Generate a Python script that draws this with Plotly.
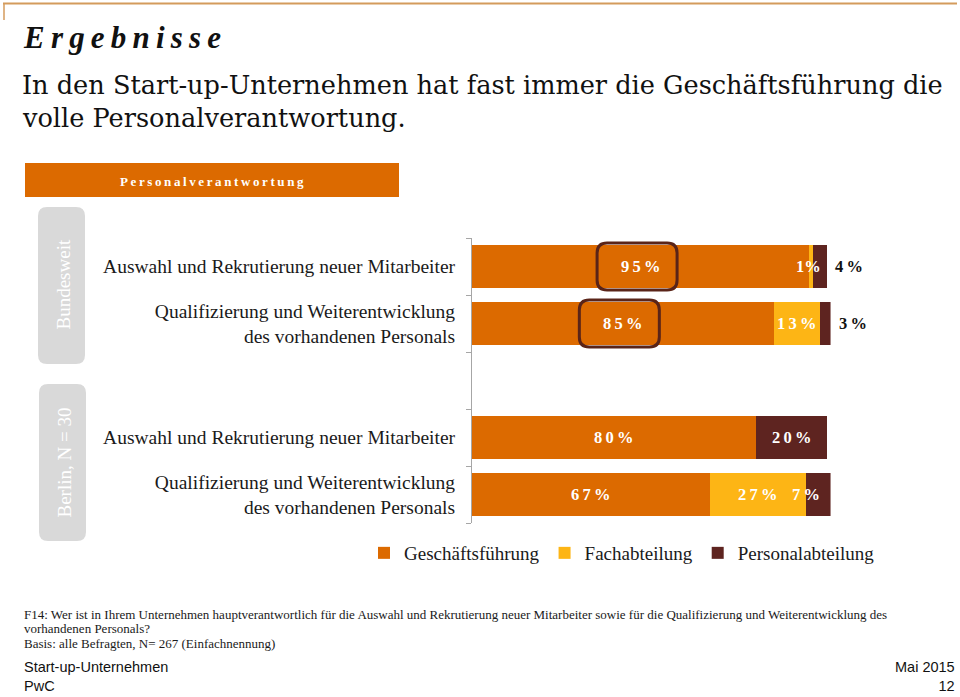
import plotly.graph_objects as go

# ---------------- data ----------------
row_labels = [
    "Auswahl und Rekrutierung neuer Mitarbeiter",
    "Qualifizierung und Weiterentwicklung<br>des vorhandenen Personals",
    "",
    "Auswahl und Rekrutierung neuer Mitarbeiter",
    "Qualifizierung und Weiterentwicklung<br>des vorhandenen Personals",
]
row_pos = [0, 1, 3, 4]          # category slots (slot 2 is the gap)
series_names = ["Geschäftsführung", "Fachabteilung", "Personalabteilung"]
geschaeftsfuehrung = [95, 85, 80, 67]
fachabteilung = [1, 13, 0, 27]
personalabteilung = [4, 3, 20, 7]
highlight_rows = [0, 1]          # rows whose first value is circled
group_names = ["Bundesweit", "Berlin, N = 30"]

W, H = 960, 697
ORANGE = "#DC6A00"
YELLOW = "#FDB515"
DARK = "#5E2420"
SERIF = "Liberation Serif"
WIDE_SERIF = "DejaVu Serif"
SANS = "Liberation Sans"
colors = [ORANGE, YELLOW, DARK]
series = [geschaeftsfuehrung, fachabteilung, personalabteilung]

def X(px):
    return px / W

def Y(py):
    return 1 - py / H

def rounded_path(x0, y0, x1, y1, rx, ry):
    return (f"M{x0+rx},{y0} L{x1-rx},{y0} Q{x1},{y0} {x1},{y0+ry} "
            f"L{x1},{y1-ry} Q{x1},{y1} {x1-rx},{y1} L{x0+rx},{y1} "
            f"Q{x0},{y1} {x0},{y1-ry} L{x0},{y0+ry} Q{x0},{y0} {x0+rx},{y0} Z")

TS = "\u2009"
def fmt(v):
    return TS.join(list(str(v))) + TS + "%"

fig = go.Figure()
for name, vals, col in zip(series_names, series, colors):
    fig.add_trace(go.Bar(
        y=row_pos, x=vals, name=name, orientation="h",
        marker=dict(color=col, line=dict(width=0)),
        width=0.77, hoverinfo="skip",
    ))

x_left_px, x_unit_px = 472, 3.55
x_max = 101
fig.update_layout(
    width=W, height=H,
    margin=dict(l=0, r=0, t=0, b=0),
    paper_bgcolor="white", plot_bgcolor="white",
    barmode="stack",
    showlegend=True,
    legend=dict(orientation="h", x=X(622), xanchor="center", y=Y(553), yanchor="middle",
                font=dict(family=SERIF, size=19, color="#1a1a1a"),
                itemwidth=30, traceorder="normal", bgcolor="rgba(0,0,0,0)"),
    xaxis=dict(domain=[X(x_left_px), X(x_left_px + x_unit_px * x_max)], range=[0, x_max],
               showticklabels=False, showgrid=False, zeroline=False, showline=False, fixedrange=True),
    yaxis=dict(domain=[Y(523), Y(238)], range=[4.5, -0.5],
               tickmode="array", tickvals=list(range(5)), ticktext=row_labels,
               ticks="", showgrid=False, zeroline=False,
               showline=True, linecolor="#A6A6A6", linewidth=1,
               tickfont=dict(family=SERIF, size=19.5, color="#1a1a1a"),
               ticklabelstandoff=12,
               minor=dict(tickmode="linear", tick0=-0.5, dtick=1, ticks="outside",
                          ticklen=5, tickcolor="#A6A6A6", tickwidth=1, showgrid=False)),
)

annotations = []
shapes = []

# data labels
for i, y in enumerate(row_pos):
    g, f, p = geschaeftsfuehrung[i], fachabteilung[i], personalabteilung[i]
    total = g + f + p
    lab = dict(family=SERIF, size=16.5, color="white")
    annotations.append(dict(x=g / 2, y=y, xref="x", yref="y", text=f"<b>{fmt(g)}</b>",
                            showarrow=False, font=lab))
    if f >= 5:
        annotations.append(dict(x=g + f / 2, y=y, xref="x", yref="y", text=f"<b>{fmt(f)}</b>",
                                showarrow=False, font=lab))
    elif f > 0:
        annotations.append(dict(x=total, y=y, xref="x", yref="y", text=f"<b>{f}%</b>",
                                xanchor="right", xshift=-4, showarrow=False, font=lab))
    if p >= 10:
        annotations.append(dict(x=g + f + p / 2, y=y, xref="x", yref="y", text=f"<b>{fmt(p)}</b>",
                                showarrow=False, font=lab))
    elif p >= 5:
        annotations.append(dict(x=total, y=y, xref="x", yref="y", text=f"<b>{fmt(p)}</b>",
                                xanchor="right", xshift=-9, showarrow=False, font=lab))
    elif p > 0:
        annotations.append(dict(x=total, y=y, xref="x", yref="y", text=f"<b>{fmt(p)}</b>",
                                xanchor="left", xshift=6, showarrow=False,
                                font=dict(family=SERIF, size=16.5, color="#111111")))

# highlight boxes around the first label of the Bundesweit rows
for r in highlight_rows:
    cx = geschaeftsfuehrung[r] / 2
    cy = row_pos[r]
    hw = 40 / x_unit_px
    hh = 23.5 / 57
    rx, ry = 10 / x_unit_px, 10 / 57
    shapes.append(dict(type="path", xref="x", yref="y",
                       path=rounded_path(cx - hw - 1, cy - hh, cx + hw - 1, cy + hh, rx, ry),
                       line=dict(color="#5A2418", width=3), fillcolor="rgba(0,0,0,0)"))

# top frame line
shapes.append(dict(type="line", xref="paper", yref="paper", x0=X(3), x1=X(957), y0=Y(3.5), y1=Y(3.5),
                   line=dict(color="#D49B5C", width=2)))
shapes.append(dict(type="line", xref="paper", yref="paper", x0=X(4), x1=X(4), y0=Y(3), y1=Y(20),
                   line=dict(color="#D49B5C", width=1.5)))

# header bar
shapes.append(dict(type="rect", xref="paper", yref="paper", x0=X(25), x1=X(399), y0=Y(197), y1=Y(163),
                   line=dict(width=0), fillcolor=ORANGE, layer="below"))
annotations.append(dict(x=X(212), y=Y(181), xref="paper", yref="paper", xanchor="center", yanchor="middle",
                        text="<b>" + TS.join(list("Personalverantwortung")) + "</b>",
                        showarrow=False, font=dict(family=SERIF, size=13, color="white")))

# group panels
for (x0, x1, y0, y1), name, cy in zip([(38, 85, 207, 364), (39, 86, 384, 541)], group_names, [285, 463]):
    shapes.append(dict(type="path", xref="paper", yref="paper",
                       path=rounded_path(X(x0), Y(y1), X(x1), Y(y0), 9 / W, 9 / H),
                       line=dict(width=0), fillcolor="#D9D9D9", layer="below"))
    annotations.append(dict(x=X((x0 + x1) / 2 + 1), y=Y(cy), xref="paper", yref="paper", text=name,
                            xanchor="center", yanchor="middle",
                            textangle=-90, showarrow=False,
                            font=dict(family=SERIF, size=19, color="white")))

# titles
annotations.append(dict(x=X(21), y=Y(37), xref="paper", yref="paper", xanchor="left", yanchor="middle",
                        text="<b><i>" + TS.join(list("Ergebnisse")) + "</i></b>",
                        showarrow=False, font=dict(family=SERIF, size=31, color="#111111")))
annotations.append(dict(x=X(20), y=Y(85), xref="paper", yref="paper", xanchor="left", yanchor="middle",
                        text="In den Start-up-Unternehmen hat fast immer die Geschäftsführung die",
                        showarrow=False, font=dict(family=WIDE_SERIF, size=25.6, color="#111111")))
annotations.append(dict(x=X(20), y=Y(118), xref="paper", yref="paper", xanchor="left", yanchor="middle",
                        text="volle Personalverantwortung.",
                        showarrow=False, font=dict(family=WIDE_SERIF, size=25.6, color="#111111")))

# footnotes
foot = [
    "F14: Wer ist in Ihrem Unternehmen hauptverantwortlich für die Auswahl und Rekrutierung neuer Mitarbeiter sowie für die Qualifizierung und Weiterentwicklung des",
    "vorhandenen Personals?",
    "Basis: alle Befragten, N= 267 (Einfachnennung)",
]
for t, py in zip(foot, [614, 628.5, 643]):
    annotations.append(dict(x=X(22), y=Y(py), xref="paper", yref="paper", xanchor="left", yanchor="middle",
                            text=t, showarrow=False, font=dict(family=SERIF, size=13, color="#1a1a1a")))

annotations.append(dict(x=X(22), y=Y(696), xref="paper", yref="paper", xanchor="left", yanchor="bottom",
                        align="left", text="Start-up-Unternehmen<br>PwC", showarrow=False,
                        font=dict(family=SANS, size=14.5, color="#111111")))
annotations.append(dict(x=X(957), y=Y(696), xref="paper", yref="paper", xanchor="right", yanchor="bottom",
                        align="right", text="Mai 2015<br>12", showarrow=False,
                        font=dict(family=SANS, size=14.5, color="#111111")))

fig.update_layout(annotations=annotations, shapes=shapes)
fig.write_html("out.html", config={"displayModeBar": False},
               post_script="document.body.style.margin='0';document.body.style.padding='0';"
                           "document.body.style.overflow='hidden';")
